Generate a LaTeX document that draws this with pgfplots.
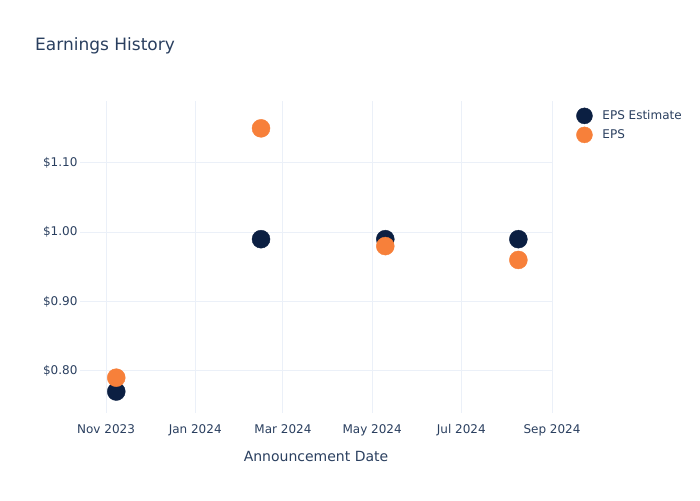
\documentclass[border=0pt]{standalone}
\usepackage{pgfplots}
\pgfplotsset{compat=1.18}
\usepackage{fontspec}
\setmainfont{DejaVu Sans}
\definecolor{txt}{HTML}{2A3F5F}
\definecolor{gridc}{HTML}{EBF0F8}
\definecolor{navy}{HTML}{0B1F42}
\definecolor{orng}{HTML}{F7803A}
\begin{document}
\begin{tikzpicture}[x=1pt,y=1pt]
\path[use as bounding box] (-80,-87) rectangle (620,413);
\node[anchor=base west, font=\fontsize{17}{20}\selectfont, text=txt, inner sep=0] at (-45,362) {Earnings History};
\begin{axis}[scale only axis,
  width=472pt, height=312pt,
  xmin=-17.8, xmax=305, ymin=0.739, ymax=1.1895,
  axis line style={draw=none},
  major tick length=0pt,
  xtick={0,61,121,182,243,305},
  xticklabels={Nov 2023,Jan 2024,Mar 2024,May 2024,Jul 2024,Sep 2024},
  ytick={0.8,0.9,1.0,1.1},
  yticklabels={\$0.80,\$0.90,\$1.00,\$1.10},
  grid=major, major grid style={draw=gridc, line width=1pt},
  tick label style={font=\fontsize{12}{14}\selectfont, text=txt},
  xticklabel style={yshift=-8pt},
  yticklabel style={xshift=1pt},
  xlabel={Announcement Date},
  xlabel style={at={(axis description cs:0.5,0)}, anchor=center, yshift=-43pt, font=\fontsize{14}{16}\selectfont, text=txt},
  legend style={at={(1.045,0.985)}, anchor=north west, draw=none, fill=none,
    font=\fontsize{12}{14}\selectfont, text=txt, row sep=3pt,
    /tikz/every odd column/.append style={column sep=8pt}},
  legend cell align=left,
  legend image post style={mark size=8pt},
  clip=false,
]
\addplot[only marks, mark=*, mark size=9pt, draw=navy, fill=navy, mark options={draw=navy, fill=navy}]
  coordinates {(7,0.77) (106,0.99) (191,0.99) (282,0.99)};
\addlegendentry{EPS Estimate}
\addplot[only marks, mark=*, mark size=9pt, draw=orng, fill=orng, mark options={draw=orng, fill=orng}]
  coordinates {(7,0.79) (106,1.15) (191,0.98) (282,0.96)};
\addlegendentry{EPS}
\end{axis}
\end{tikzpicture}
\end{document}
